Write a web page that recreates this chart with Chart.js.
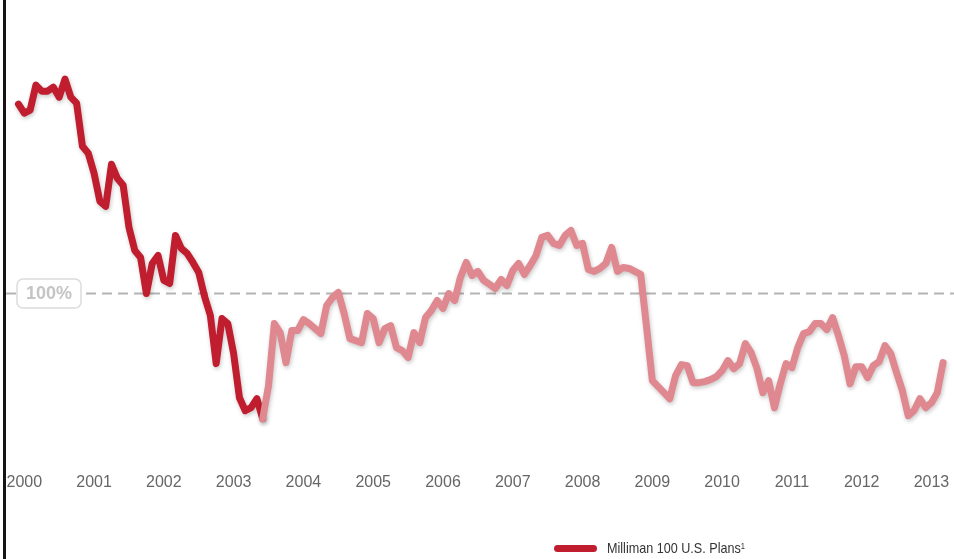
<!DOCTYPE html>
<html>
<head>
<meta charset="utf-8">
<script src="https://cdn.jsdelivr.net/npm/chart.js@4.4.1/dist/chart.umd.min.js"></script>
<style>
  html, body { margin: 0; padding: 0; background: #fff; }
  #wrap { position: relative; width: 954px; height: 559px; overflow: hidden; }
  #frame { position: absolute; left: 3px; top: 0; width: 3px; height: 559px; background: #141414; }
  #legend {
    position: absolute; left: 554px; top: 538px;
    font: 15px "Liberation Sans Narrow", "Liberation Sans", Arial, sans-serif; color: #333;
    white-space: nowrap; line-height: 20px;
  }
  #legend .swatch {
    display: inline-block; width: 43px; height: 7px; border-radius: 4px;
    background: #c01d2e; vertical-align: middle; margin-right: 10px; position: relative; top: -1px;
  }
  #legend .name { display: inline-block; transform: scaleX(0.84); transform-origin: 0 50%; }
  #legend sup { font-size: 9px; vertical-align: top; position: relative; top: -2px; }
</style>
</head>
<body>
<div id="wrap">
  <canvas id="chart-1" width="954" height="559"></canvas>
  <div id="frame"></div>
  <div id="legend"><span class="swatch"></span><span class="name">Milliman 100 U.S. Plans<sup>1</sup></span></div>
</div>
<script>
// Monthly funded ratio (%), December 1999 through March 2013
const startYear = 1999;
const startMonth = 12;
const fundedRatio = [
  137.8, 136.0, 136.6, 141.6, 140.4, 140.4, 141.2, 139.2, 142.8, 139.2, 138.0, 129.4,
  128.0, 124.0, 118.4, 117.4, 125.8, 123.0, 121.6, 113.2, 108.6, 107.2, 100.0, 106.0,
  107.6, 102.6, 102.0, 111.6, 109.0, 108.0, 106.2, 104.2, 99.4, 95.6, 86.0, 95.0,
  94.0, 88.0, 79.2, 76.6, 77.2, 79.0, 75.0, 81.6, 94.0, 92.2, 86.2, 92.6,
  92.6, 94.8, 94.0, 93.0, 92.0, 97.6, 99.2, 100.2, 96.0, 91.0, 90.6, 90.2,
  96.0, 95.0, 90.2, 93.0, 93.6, 89.2, 88.6, 87.2, 92.2, 90.2, 95.2, 96.6,
  98.6, 97.0, 100.0, 98.6, 103.2, 106.2, 103.6, 104.4, 102.6, 101.8, 101.0, 102.8,
  101.6, 104.6, 106.0, 103.8, 105.6, 107.6, 111.2, 111.6, 110.0, 109.6, 111.6, 112.6,
  109.6, 110.0, 104.8, 104.4, 105.0, 106.0, 109.2, 104.4, 105.2, 105.0, 104.4, 103.8,
  93.4, 82.6, 81.4, 80.2, 79.0, 83.6, 85.8, 85.6, 82.2, 82.2, 82.4, 82.8,
  83.4, 84.6, 86.6, 85.0, 86.0, 90.0, 88.2, 85.0, 80.2, 82.6, 77.2, 82.0,
  86.0, 85.2, 89.2, 92.0, 92.4, 94.0, 94.0, 92.8, 95.2, 91.6, 87.6, 82.0,
  85.4, 85.4, 83.2, 85.6, 86.4, 89.6, 88.0, 84.2, 80.6, 75.6, 76.6, 79.0,
  77.2, 78.2, 80.2, 86.2
];
// months up to this index are drawn in the strong red
const highlightUntil = 42;
const yearTicks = [2000, 2001, 2002, 2003, 2004, 2005, 2006, 2007, 2008, 2009, 2010, 2011, 2012, 2013];
const referenceLevel = 100;

const darkRed = "#c01d2e";
const lightRed = "#e08890";

const points = fundedRatio.map((v, i) => ({ x: startYear + (startMonth - 1 + i) / 12, y: v }));

// soft drop shadow under the line
const lineShadow = {
  id: "lineShadow",
  beforeDatasetsDraw(chart) {
    const c = chart.ctx;
    c.save();
    c.shadowColor = "rgba(0, 0, 0, 0.22)";
    c.shadowBlur = 4;
    c.shadowOffsetX = 1;
    c.shadowOffsetY = 2;
  },
  afterDatasetsDraw(chart) {
    chart.ctx.restore();
  },
};

// dashed 100% line with its boxed label
const referenceLine = {
  id: "referenceLine",
  beforeDatasetsDraw(chart) {
    const c = chart.ctx;
    const area = chart.chartArea;
    const y = chart.scales.y.getPixelForValue(referenceLevel);
    c.save();
    c.strokeStyle = "#b4b4b4";
    c.lineWidth = 2;
    c.setLineDash([10, 6]);
    c.beginPath();
    c.moveTo(area.left + 6, y);
    c.lineTo(area.right, y);
    c.stroke();
    c.restore();
  },
  afterDraw(chart) {
    const c = chart.ctx;
    const y = chart.scales.y.getPixelForValue(referenceLevel);
    const x = 17, w = 64, h = 29;
    c.save();
    c.beginPath();
    c.roundRect(x, y - h / 2, w, h, 6);
    c.fillStyle = "#fff";
    c.fill();
    c.strokeStyle = "#dcdcdc";
    c.lineWidth = 1.5;
    c.stroke();
    c.fillStyle = "#c4c4c4";
    c.font = "bold 18px 'Liberation Sans', Arial, sans-serif";
    c.textAlign = "center";
    c.textBaseline = "middle";
    c.fillText(referenceLevel + "%", x + w / 2, y + 1);
    c.restore();
  },
};

const ctx1 = document.getElementById("chart-1").getContext("2d");
const myChart = new Chart(ctx1, {
  type: "line",
  data: {
    datasets: [
      {
        label: "Milliman 100 U.S. Plans",
        data: points,
        borderColor: darkRed,
        borderWidth: 7,
        borderJoinStyle: "round",
        borderCapStyle: "round",
        pointRadius: 0,
        tension: 0,
        fill: false,
        segment: {
          borderColor: (s) => (s.p0DataIndex >= highlightUntil ? lightRed : undefined),
        },
      },
    ],
  },
  options: {
    responsive: false,
    animation: false,
    devicePixelRatio: 1,
    layout: { autoPadding: false, padding: { top: 13, bottom: 67, left: 0, right: 0 } },
    plugins: {
      legend: { display: false },
      tooltip: { enabled: false },
    },
    scales: {
      x: {
        type: "linear",
        min: 1999.652,
        max: 2013.323,
        afterBuildTicks: (axis) => {
          axis.ticks = yearTicks.map((v) => ({ value: v }));
        },
        grid: { display: false, drawTicks: true, tickLength: 19 },
        border: { display: false },
        ticks: {
          callback: (v) => String(v),
          color: "#666",
          font: { family: "'Liberation Sans', Arial, sans-serif", size: 16 },
          padding: 0,
          maxRotation: 0,
          autoSkip: false,
        },
      },
      y: {
        display: false,
        min: 68,
        max: 156,
      },
    },
  },
  plugins: [referenceLine, lineShadow],
});
</script>
</body>
</html>
